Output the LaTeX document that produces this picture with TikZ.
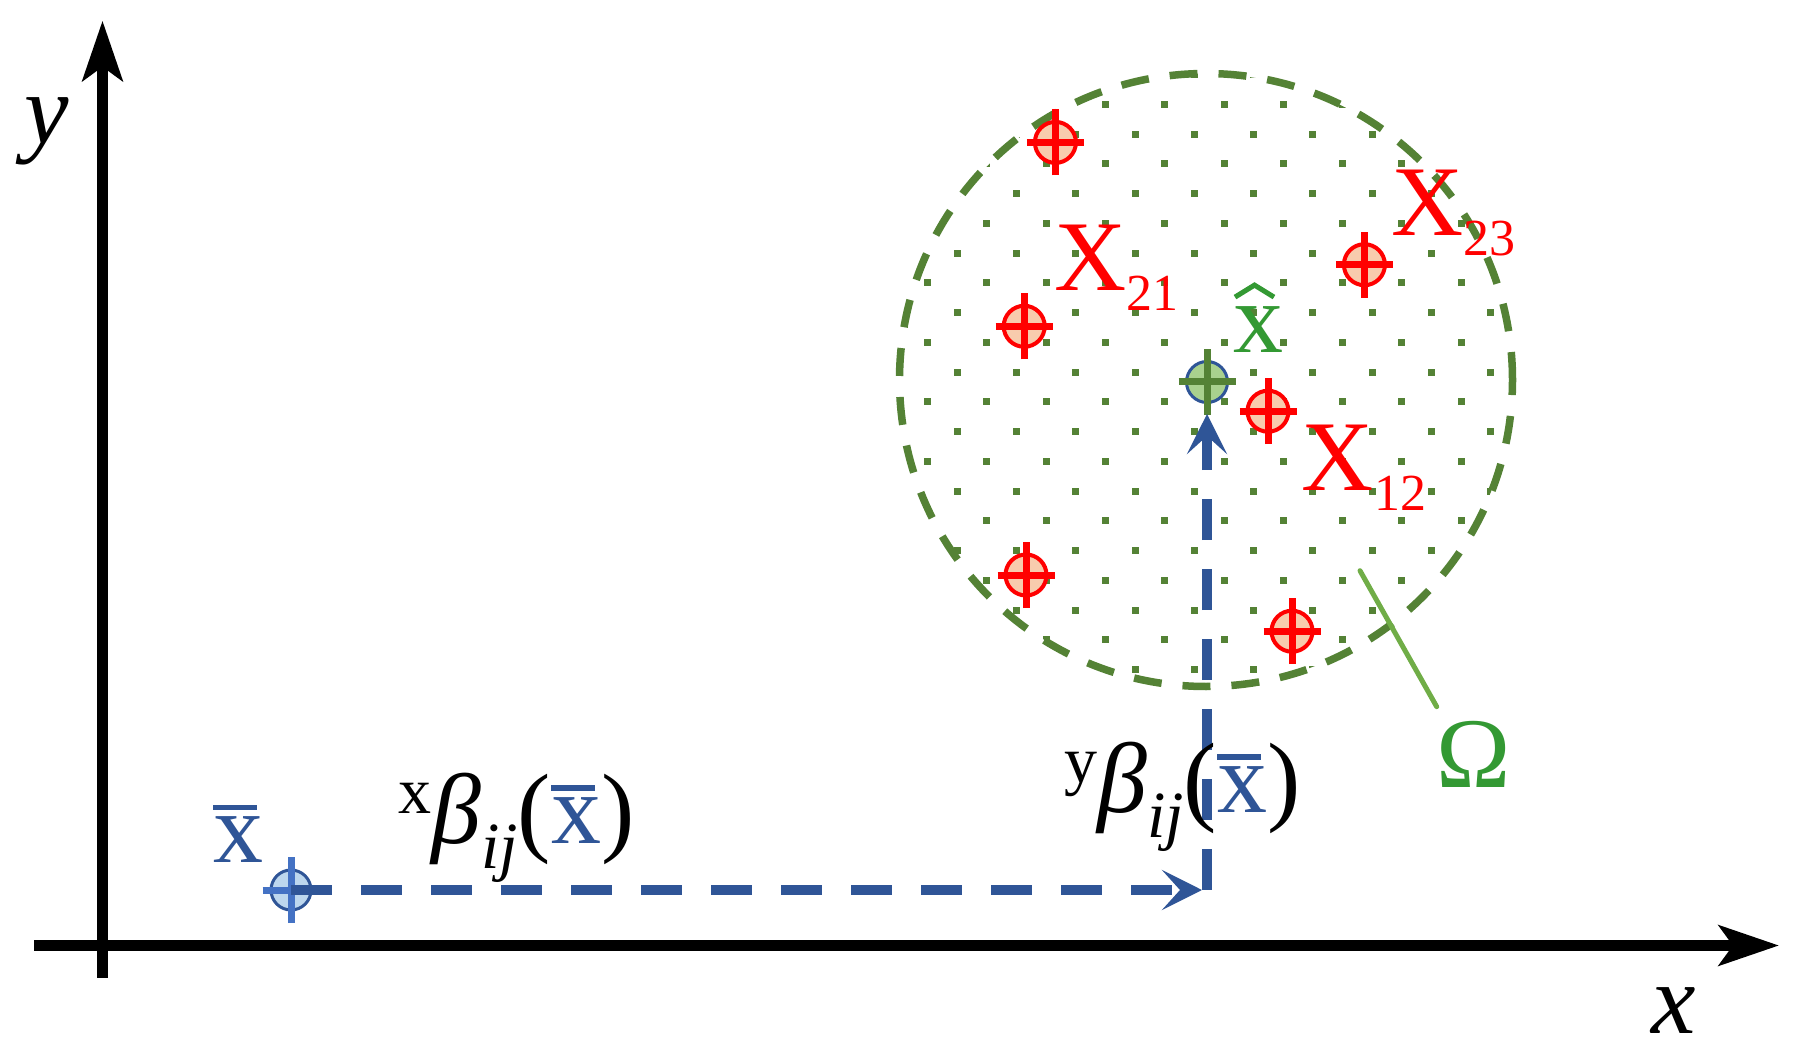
\documentclass[tikz,border=0pt]{standalone}
\usepackage{fontspec}
\setmainfont{Liberation Serif}
\usetikzlibrary{arrows.meta}
\definecolor{redc}{RGB}{255,0,0}
\definecolor{peach}{HTML}{F8CBAD}
\definecolor{dkgreen}{HTML}{548235}
\definecolor{ltgreen}{HTML}{A9D18E}
\definecolor{leafgreen}{HTML}{70AD47}
\definecolor{txtgreen}{RGB}{51,153,51}
\definecolor{navy}{HTML}{2F5597}
\definecolor{midblue}{HTML}{4472C4}
\definecolor{paleblue}{HTML}{BDD7EE}
\newcommand\barx{\rlap{\rule[0.525em]{0.44em}{0.055em}}x}
\newcommand\mkcross[2]{\draw[line width=3.5pt,#2] ([xshift=-14.25pt]#1.center) -- ([xshift=14.25pt]#1.center) ([yshift=-16.5pt]#1.center) -- ([yshift=16.5pt]#1.center);}
\begin{document}
\begin{tikzpicture}[x=0.5pt,y=-0.5pt,
  lbl/.style={inner sep=0pt, font=\fontsize{50}{60}\selectfont},
  axisline/.style={line width=5.3pt, -{Stealth[length=30pt,width=20pt,inset=7pt]}},
  bluearrow/.style={navy, line width=5pt, dash pattern=on 20.35pt off 14.65pt, -{Stealth[length=20pt,width=20pt,inset=9pt]}},
  redmark/.style={circle, draw=redc, fill=peach, line width=2pt, minimum size=20.5pt, inner sep=0pt},
  greenmark/.style={circle, draw=navy, fill=ltgreen, line width=1.5pt, minimum size=20.5pt, inner sep=0pt},
  bluemark/.style={circle, draw=navy, fill=paleblue, line width=1.5pt, minimum size=20pt, inner sep=0pt},
  region/.style={circle, draw=dkgreen, line width=3.75pt, dash pattern=on 14pt off 10.5pt, minimum size=306.5pt, inner sep=0pt}
]
\useasboundingbox (0,0) rectangle (1806,1059);
% dotted fill of the region
\coordinate (oc) at (1206,380);
\begin{scope}
\clip (oc) circle[radius=306];
\foreach \a in {-1,...,10}{
  \foreach \k in {-4,...,7}{
    \fill[dkgreen] ({1105.4+59.3*\k-3.5},{104.5+59.48*\a-3.5}) rectangle ++(7,7);
    \fill[dkgreen] ({1075.75+59.3*\k-3.5},{134.24+59.48*\a-3.5}) rectangle ++(7,7);
  }}
\end{scope}
\node[region] (om) at (oc) {};
% axes
\coordinate (yb) at (102.5,977.7);
\coordinate (yt) at (102.5,20.7);
\coordinate (xl) at (34,945.5);
\coordinate (xr) at (1779,945.5);
\draw[axisline] (yb) -- (yt);
\draw[axisline] (xl) -- (xr);
% omega leader
\coordinate (omtop) at (1360,570.7);
\coordinate (omend) at (1436.7,706.7);
\draw[leafgreen, line width=2.5pt, line cap=round] (omtop) -- (omend);
% markers
\node[redmark] (r1) at (1055.4,142.4) {};
\node[redmark] (r2) at (1024.2,326.3) {};
\node[redmark] (r3) at (1364.4,264.7) {};
\node[redmark] (r4) at (1268,411.2) {};
\node[redmark] (r5) at (1026,575) {};
\node[redmark] (r6) at (1292,631.2) {};
\foreach \m in {r1,r2,r3,r4,r5,r6}{\mkcross{\m}{redc}}
\node[greenmark] (c) at (1207,382) {};
\mkcross{c}{dkgreen}
\node[bluemark] (xb) at (291,890) {};
\mkcross{xb}{midblue}
% arrows
\coordinate (corner) at (1207,890);
\draw[bluearrow, shorten >=2.5pt] (xb.center) -- (corner);
\draw[bluearrow, shorten >=5pt] (corner) -- (c.south);
% labels
\node[lbl] (ylab) at (47,131) {\textit{y}};
\node[lbl] (xlab) at (1673.5,1011) {\textit{x}};
\node[lbl, text=txtgreen] (omlab) at (1474,754) {Ω};
\node[lbl, text=redc, anchor=base west] (t21) at (1054,291) {X\raisebox{-10pt}{\fontsize{26}{26}\selectfont 21}};
\node[lbl, text=redc, anchor=base west] (t23) at (1391,235.7) {X\raisebox{-10pt}{\fontsize{26}{26}\selectfont 23}};
\node[lbl, text=redc, anchor=base west] (t12) at (1301.5,490.7) {X\raisebox{-10pt}{\fontsize{26}{26}\selectfont 12}};
\node[lbl, text=txtgreen, anchor=base west] (xh) at (1233,352.3) {x};
\draw[txtgreen, line width=2.5pt] ([shift={(1pt,27.6pt)}]xh.base west) -- ([shift={(10.75pt,33.6pt)}]xh.base west) -- ([shift={(20.5pt,27.6pt)}]xh.base west);
\node[lbl, text=navy, anchor=base west] (xbl) at (213,862.7) {\barx};
\node[lbl, anchor=base west] (bx) at (398,843.3) {\raisebox{15pt}{\fontsize{33}{33}\selectfont x}\textit{β}\raisebox{-12.5pt}{\fontsize{33}{33}\selectfont\textit{ij}}(\textcolor{navy}{\barx})};
\node[lbl, anchor=base west] (by) at (1064,812.3) {\raisebox{15pt}{\fontsize{33}{33}\selectfont y}\textit{β}\raisebox{-12.5pt}{\fontsize{33}{33}\selectfont\textit{ij}}(\textcolor{navy}{\barx})};
\end{tikzpicture}
\end{document}
